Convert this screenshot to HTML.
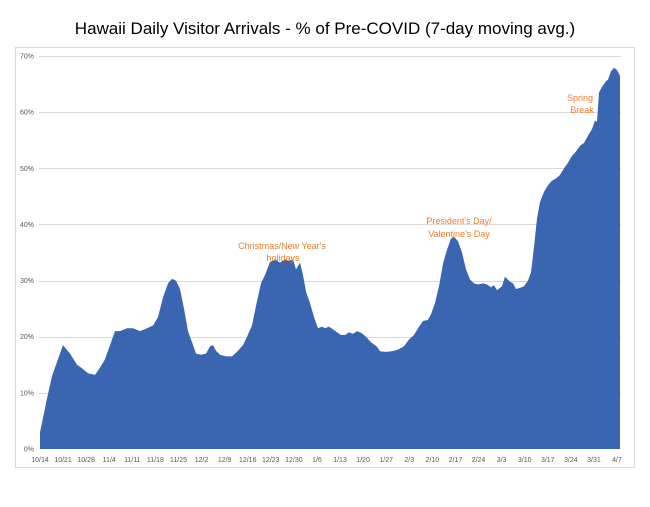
<!DOCTYPE html>
<html><head><style>
body{margin:0;background:#fff;width:650px;height:502px;overflow:hidden;font-family:"Liberation Sans",sans-serif}
</style></head><body>
<svg id="s" width="650" height="502" xmlns="http://www.w3.org/2000/svg" font-family="Liberation Sans, sans-serif">
<text x="325" y="34" font-size="17" text-anchor="middle" fill="#000">Hawaii Daily Visitor Arrivals - % of Pre-COVID (7-day moving avg.)</text>
<rect x="15.5" y="47.5" width="619" height="420" fill="none" stroke="#d9d9d9"/>
<g id="grid" stroke="#d9d9d9" stroke-width="1"></g>
<g id="yl" font-size="7" fill="#595959" text-anchor="end"></g>
<polygon id="area" fill="#3a65b0"/>
<g id="xl" font-size="7" fill="#595959" text-anchor="middle"></g>
<g font-size="9" fill="#ed7d31" text-anchor="middle">
<text x="282" y="249">Christmas/New Year's</text>
<text x="283" y="261">holidays</text>
<text x="459" y="224">President's Day/</text>
<text x="459" y="237">Valentine's Day</text>
<text x="580" y="101">Spring</text>
<text x="582" y="113">Break</text>
</g>
</svg>
<script>
var Y=p=>449-p*5.614;
var g=document.getElementById('grid'),yl=document.getElementById('yl'),xl=document.getElementById('xl');
var ns='http://www.w3.org/2000/svg';
for(var i=1;i<=7;i++){var l=document.createElementNS(ns,'line');var y=Math.round(Y(i*10))+.5;
l.setAttribute('x1',39);l.setAttribute('x2',621);l.setAttribute('y1',y);l.setAttribute('y2',y);g.appendChild(l);}
for(var i=0;i<=7;i++){var t=document.createElementNS(ns,'text');t.setAttribute('x',34);t.setAttribute('y',Y(i*10)+2.5);t.textContent=(i*10)+'%';yl.appendChild(t);}
var labs=['10/14','10/21','10/28','11/4','11/11','11/18','11/25','12/2','12/9','12/16','12/23','12/30','1/6','1/13','1/20','1/27','2/3','2/10','2/17','2/24','3/3','3/10','3/17','3/24','3/31','4/7'];
labs.forEach((s,i)=>{var t=document.createElementNS(ns,'text');t.setAttribute('x',40+i*23.08);t.setAttribute('y',462);t.textContent=s;xl.appendChild(t);});
var d=[40,3,47,9,52,13,57,15.5,63,18.5,70,17,77,15,82,14.4,88,13.5,95,13.2,100,14.5,105,16,110,18.5,115,21,120,21,127,21.5,133,21.5,140,21,147,21.5,153,22,158,23.5,163,27,168,29.5,172,30.3,176,30,180,28.5,184,25,188,21,192,19,196,17,201,16.8,206,17,210,18.3,213,18.5,216,17.5,220,16.8,226,16.5,232,16.5,238,17.5,243,18.5,247,20,252,22,256,25.5,261,29.5,265,31,270,33.3,275,33.8,280,33.2,285,33.8,289,33.5,293,33.8,296,32,300,33.2,303,31,306,28,310,26,314,23.5,318,21.5,322,21.8,325,21.5,329,21.8,333,21.3,337,20.8,341,20.3,345,20.3,349,20.8,353,20.5,357,21,361,20.7,366,20,371,19,377,18.2,380,17.4,386,17.3,392,17.4,398,17.7,404,18.3,409,19.5,414,20.3,418,21.5,423,22.8,428,23,431,24,435,26,439,29,443,33,447,35.5,451,37.5,454,37.8,458,37,462,35,466,32,470,30.2,474,29.5,478,29.3,483,29.5,487,29.3,491,28.8,494,29.2,497,28.3,502,29,505,30.7,510,29.8,513,29.5,516,28.5,520,28.7,524,29,528,30,531,31.5,534,36,537,41,540,44,544,45.8,548,47,552,47.8,556,48.2,560,48.8,564,50,568,51,572,52.2,576,53,580,54,584,54.5,588,55.8,592,57,595,58.5,597,58.3,599,63.5,602,64.5,606,65.5,608,65.8,611,67.3,614,67.9,617,67.5,620,66.5];
var pts=['40,449'];for(var i=0;i<d.length;i+=2)pts.push(d[i]+','+Y(d[i+1]).toFixed(1));pts.push('620,449');
document.getElementById('area').setAttribute('points',pts.join(' '));
</script>
</body></html>
